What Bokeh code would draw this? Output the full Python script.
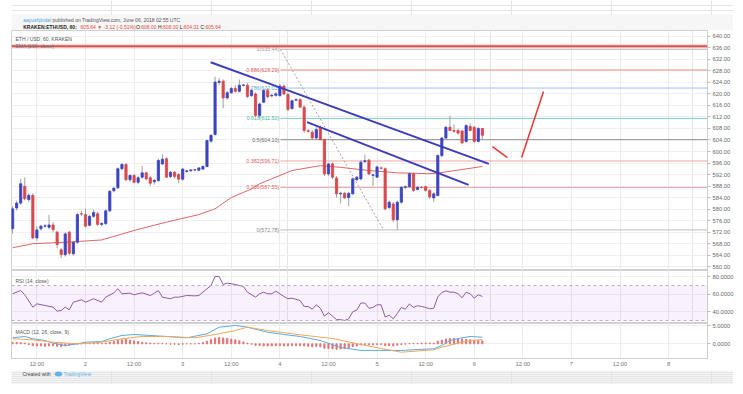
from bokeh.plotting import figure
from bokeh.layouts import column
from bokeh.models import Range1d, FixedTicker, PrintfTickFormatter, Label, Grid, Span, BoxAnnotation
from bokeh.core.properties import value
from bokeh.embed import file_html
from bokeh.resources import INLINE

# ---------------- data ----------------
hours = list(range(-18, 99))  # hours relative to June 2 00:00 UTC
opens = [573.2, 580.4, 582.1, 587.9, 583.3, 584.8, 570.0, 573.2, 574.1, 573.7,
         574.5, 572.0, 565.9, 564.2, 572.0, 564.5, 568.5, 578.4, 578.1, 574.4,
         577.5, 578.4, 574.7, 575.0, 579.4, 586.4, 587.4, 594.0, 595.5, 590.2,
         591.7, 589.3, 591.1, 592.6, 590.9, 589.5, 589.9, 595.7, 597.5, 591.3,
         592.8, 592.0, 590.4, 593.1, 593.3, 593.6, 593.5, 593.9, 594.8, 603.6,
         605.9, 624.0, 624.4, 618.6, 620.4, 621.9, 620.9, 623.0, 623.0, 619.4,
         620.0, 612.5, 617.1, 621.2, 619.3, 619.5, 619.4, 622.7, 619.8, 614.9,
         617.8, 618.0, 615.4, 607.2, 606.7, 604.7, 608.1, 604.1, 592.2, 595.7,
         590.8, 585.3, 585.5, 584.0, 585.3, 590.2, 590.5, 596.5, 597.0, 591.7,
         591.1, 594.3, 594.0, 580.6, 581.8, 576.3, 582.4, 587.6, 587.8, 592.3,
         586.8, 587.6, 587.8, 586.5, 583.9, 584.7, 598.6, 604.7, 608.4, 607.3,
         607.3, 607.1, 603.5, 608.7, 608.4, 603.5, 608.0]
highs = [581.0, 583.0, 590.5, 591.0, 585.5, 585.5, 574.0, 574.6, 574.8, 578.0,
         575.5, 572.5, 566.5, 572.0, 572.5, 569.0, 578.5, 579.5, 580.2, 578.0,
         579.8, 579.0, 575.5, 580.0, 586.5, 587.5, 594.5, 596.0, 596.0, 592.0,
         592.2, 591.5, 595.0, 593.0, 591.5, 590.5, 597.5, 599.0, 598.0, 593.3,
         593.2, 592.5, 594.3, 593.6, 593.9, 594.0, 594.6, 595.2, 604.2, 606.0,
         626.0, 625.5, 625.0, 621.0, 622.5, 623.0, 625.0, 623.5, 623.8, 621.8,
         620.5, 617.0, 621.8, 622.0, 620.0, 620.5, 623.5, 623.2, 620.5, 618.0,
         618.5, 618.5, 616.0, 607.8, 607.5, 608.5, 609.0, 604.5, 596.0, 596.2,
         591.5, 586.0, 586.0, 586.0, 591.0, 591.5, 597.0, 599.0, 597.5, 592.3,
         595.2, 594.8, 594.5, 583.0, 582.5, 583.0, 588.0, 588.2, 592.8, 592.8,
         588.0, 588.0, 588.2, 587.0, 585.8, 599.0, 605.0, 609.0, 612.5, 609.5,
         608.0, 607.5, 609.5, 609.8, 608.8, 608.5, 608.0]
lows = [571.5, 579.5, 581.5, 583.0, 582.5, 569.5, 569.0, 572.5, 573.5, 573.0,
        572.0, 566.5, 563.0, 563.5, 564.0, 563.8, 568.0, 577.6, 573.6, 574.0,
        577.0, 574.2, 574.0, 574.5, 579.0, 585.8, 587.0, 593.5, 589.8, 589.5,
        589.0, 588.8, 590.5, 590.0, 588.0, 588.5, 589.5, 595.3, 590.8, 590.8,
        590.5, 589.0, 589.8, 592.7, 593.0, 593.2, 593.2, 593.6, 594.5, 603.0,
        605.5, 623.0, 615.0, 618.0, 620.0, 620.5, 620.5, 622.5, 618.5, 619.0,
        612.0, 611.5, 616.8, 618.5, 618.8, 619.0, 619.0, 619.5, 614.0, 614.5,
        617.5, 615.0, 606.5, 606.5, 604.0, 604.3, 603.8, 591.5, 591.5, 590.5,
        584.0, 582.0, 583.5, 581.0, 585.0, 589.8, 590.0, 596.0, 591.8, 588.0,
        590.8, 593.8, 579.5, 580.0, 575.5, 572.8, 582.0, 587.0, 587.5, 586.0,
        586.5, 587.2, 586.0, 583.5, 582.5, 584.5, 598.0, 604.0, 607.0, 606.5,
        605.8, 602.5, 603.0, 607.0, 603.0, 603.2, 604.01]
closes = [580.1, 582.1, 588.8, 583.6, 584.8, 570.0, 572.8, 574.1, 574.2, 574.5,
          572.9, 567.7, 564.2, 571.4, 564.7, 568.5, 578.1, 578.3, 574.1, 577.5,
          578.8, 574.7, 575.0, 579.4, 586.2, 587.3, 594.0, 595.5, 590.2, 591.7,
          589.3, 590.9, 592.6, 590.5, 589.0, 590.0, 596.9, 597.3, 591.1, 592.8,
          591.3, 590.4, 593.9, 593.3, 593.6, 593.7, 594.3, 594.8, 603.8, 605.6,
          624.1, 624.4, 618.6, 620.4, 621.9, 620.9, 623.0, 623.1, 619.1, 621.2,
          612.5, 616.5, 621.2, 619.0, 619.5, 620.0, 622.7, 620.0, 614.6, 617.6,
          618.0, 615.4, 607.3, 607.0, 604.7, 607.6, 604.1, 592.2, 595.7, 591.1,
          585.3, 585.5, 583.9, 585.5, 590.5, 591.1, 596.3, 596.8, 592.2, 591.9,
          594.6, 594.2, 580.1, 582.4, 576.3, 582.4, 587.6, 587.8, 592.3, 586.5,
          587.6, 587.5, 586.5, 584.2, 585.3, 598.6, 604.7, 608.4, 607.3, 607.0,
          606.4, 603.0, 609.0, 607.3, 603.5, 608.0, 605.64]

ema_hours = [-18, -13, -5, 4, 12, 20, 28, 32, 36, 41, 43, 51, 58, 63, 70, 77, 85, 87, 98]
ema_vals = [566.6, 568.0, 568.5, 569.3, 572.6, 575.5, 578.1, 580.1, 584.0, 587.0, 588.8,
            593.4, 595.1, 594.5, 593.4, 592.6, 592.3, 592.5, 594.8]

fib_ratios = ["1", "0.886", "0.786", "0.618", "0.5", "0.382", "0.236", "0"]
fib_prices = [635.44, 628.29, 622.03, 611.50, 604.10, 596.71, 587.55, 572.78]
fib_start = 48.15
fib_diag_hours = [48.15, 73.6]
fib_diag_prices = [635.44, 572.78]

trend1_hours = [30.9, 99.6]
trend1_prices = [631.0, 595.7]
trend2_hours = [54.7, 94.6]
trend2_prices = [610.2, 588.4]
proj1_hours = [100.5, 104.2]
proj1_prices = [601.7, 597.9]
proj2_hours = [107.7, 113.1]
proj2_prices = [597.9, 620.8]

level_high = 636.56
last_price = 605.64

price_ticks = list(range(560, 644, 4))

rsi_hours = [-18, -16, -15, -13, -12, -10, -8, -7, -6, -5, -4, -3, -1, 0, 1, 2, 4, 5, 7, 8,
             9, 11, 12, 13, 14, 16, 17, 18, 19, 21, 22, 23, 25, 27, 28, 30, 31, 32, 33, 34,
             35, 37, 39, 40, 42, 43, 44, 45, 46, 47, 49, 50, 51, 53, 54, 55, 56, 57, 58, 59,
             60, 61, 62, 63, 64, 65, 66, 67, 68, 69, 70, 71, 72, 73, 74, 75, 76, 77, 78, 79,
             80, 81, 82, 83, 84, 85, 86, 87, 88, 89, 90, 91, 92, 93, 94, 95, 96, 97, 98]
rsi_vals = [60.6, 64.3, 59.4, 45.3, 49.1, 47.2, 45.3, 40.7, 41.5, 45.3, 42.3, 51.0, 53.7, 51.0, 52.9, 54.9, 51.0, 56.7, 61.7, 66.3,
            60.6, 61.3, 59.4, 60.6, 61.7, 58.6, 61.3, 64.3, 56.7, 54.9, 56.7, 56.7, 58.6, 58.2, 58.6, 66.3, 70.1, 80.3, 80.3, 71.2,
            72.7, 71.2, 68.9, 62.4, 56.7, 60.6, 62.4, 60.6, 60.6, 63.6, 57.5, 54.9, 55.6, 52.9, 46.0, 46.0, 43.0, 48.0, 44.0, 35.0,
            39.0, 35.0, 31.0, 31.0, 30.0, 32.0, 40.0, 42.0, 50.0, 50.0, 44.0, 45.0, 48.0, 48.0, 34.0, 36.0, 32.0, 38.0, 45.0, 43.0,
            49.0, 45.0, 47.0, 46.0, 45.0, 43.4, 44.0, 57.0, 62.0, 64.0, 62.4, 62.4, 60.6, 56.0, 62.4, 60.6, 55.6, 59.4, 57.5]

macd_hours = [-18, -15, -13, -10, -8, -5, -2, 0, 4, 6, 9, 12, 16, 20, 25, 30, 33, 37, 40, 45, 49, 53,
              58, 63, 68, 73, 78, 82, 86, 88, 90, 93, 95, 98]
macd_vals = [1.64, 2.0, 1.37, 0.9, 0.16, -0.46, 0.0, 0.44, 0.63, 1.37, 2.27, 2.54, 2.27, 2.0, 1.64, 2.73, 4.54, 5.0, 4.54, 3.17, 2.54, 2.0,
             0.9, -1.0, -1.8, -1.8, -1.83, -1.56, -1.37, -0.46, 0.9, 1.64, 2.0, 1.8]
signal_hours = [-18, -13, -8, -2, 4, 9, 14, 20, 27, 32, 37, 40, 45, 50, 53, 61, 68, 73, 78, 86, 88, 92, 95, 98]
signal_vals = [1.37, 1.09, 0.44, 0.0, 0.44, 1.37, 2.0, 2.0, 1.64, 2.54, 3.63, 4.54, 3.63, 2.9, 2.46, 1.45, -0.2, -1.3, -2.3, -1.64, -0.93, 0.16, 0.9, 1.17]
hist_vals = [0.3, 0.4, 0.3, 0.2,
             -0.2, -0.5, -0.6, -0.6, -0.7, -0.6, -0.5, -0.7, -0.8, -0.6, -0.4,
             -0.2, -0.1, 0.0, 0.1, 0.1, 0.2, 0.2, 0.1, 0.2, 0.4,
             0.6, 0.9, 1.1, 1.2, 1.0, 0.8, 0.6, 0.4,
             0.3, 0.2, 0.1, 0.1, 0.1, 0.0, -0.1, -0.1, -0.2, -0.1, 0.0, 0.0, 0.0, 0.1, 0.3,
             0.7, 1.2, 1.6, 1.7, 1.6, 1.5, 1.3, 1.1, 0.8, 0.5, 0.2,
             -0.1, -0.4, -0.5, -0.6, -0.6, -0.6, -0.5, -0.5, -0.6, -0.6, -0.5, -0.5, -0.5,
             -0.6, -0.7, -0.8, -0.7, -0.8, -1.2, -1.3, -1.4, -1.5, -1.4, -1.3, -1.1, -0.8, -0.6, -0.3, -0.2, -0.3,
             -0.3, -0.2, -0.2, -0.5, -0.5, -0.6, -0.4, -0.2, -0.1, 0.1, 0.1, 0.1, 0.2, 0.2, 0.2, 0.2,
             0.7, 1.0, 1.3, 1.4, 1.5, 1.4, 1.3, 1.2, 1.1, 1.0, 0.9, 0.8]

time_ticks = [-12, 0, 12, 24, 36, 48, 60, 72, 84, 96, 108, 120, 132, 144]
time_labels = ["12:00", "2", "12:00", "3", "12:00", "4", "12:00", "5", "12:00", "6", "12:00", "7", "12:00", "8"]

header_line1 = [("aayushjindal ", "#4a9fe0", "normal"),
                ("published on TradingView.com, June 06, 2018 02:55 UTC", "#555555", "normal")]
header_line2 = [("KRAKEN:ETHUSD, 60: ", "#222222", "bold"),
                ("605.64 \u25bc -3.12 (-0.51%) ", "#e04848", "normal"),
                ("O:", "#222222", "normal"), ("608.00 ", "#e04848", "normal"),
                ("H:", "#222222", "normal"), ("608.00 ", "#e04848", "normal"),
                ("L:", "#222222", "normal"), ("604.01 ", "#e04848", "normal"),
                ("C:", "#222222", "normal"), ("605.64", "#e04848", "normal")]

# ---------------- styling ----------------
FONT = "Liberation Sans"
UP = "#3b44c2"
DOWN = "#d9474b"
FW = 696
LEFT = 11
xr = Range1d(-18.27, 153.6)

# approximate Arial / Liberation Sans advance widths (em) used to place coloured text runs
AW = {c: 0.556 for c in "0123456789"}
AW.update({".": 0.278, ",": 0.278, ":": 0.278, " ": 0.278, "(": 0.333, ")": 0.333, "-": 0.333,
           "%": 0.889, "/": 0.278, "K": 0.667, "R": 0.722, "A": 0.667, "E": 0.667, "N": 0.722,
           "T": 0.611, "H": 0.722, "U": 0.722, "S": 0.667, "D": 0.722, "O": 0.778, "L": 0.556,
           "C": 0.722, "V": 0.667, "J": 0.5, "\u25bc": 0.8, "i": 0.222, "l": 0.222, "j": 0.222,
           "f": 0.278, "t": 0.278, "r": 0.333, "m": 0.833, "w": 0.722, "s": 0.5, "c": 0.5,
           "k": 0.5, "y": 0.5, "v": 0.5, "z": 0.5})


def tw(s, size, bold=False):
    return sum(AW.get(ch, 0.556) for ch in s) * size * (1.07 if bold else 1.0)


def panel(fh, y0, y1, ticks, fmt, bottom=0):
    p = figure(frame_width=FW, frame_height=fh, x_range=xr, y_range=Range1d(y0, y1),
               output_backend="svg", toolbar_location=None,
               x_axis_location="below" if bottom else None, y_axis_location="right",
               min_border_left=LEFT, min_border_right=26, min_border_top=0, min_border_bottom=bottom)
    p.outline_line_color = "#d0d0d0"
    p.background_fill_color = "white"
    p.border_fill_color = "white"
    ax = p.yaxis[0]
    ax.ticker = FixedTicker(ticks=ticks)
    ax.formatter = PrintfTickFormatter(format=fmt)
    ax.axis_line_color = "#cfcfcf"
    ax.major_tick_line_color = "#c0c0c0"
    ax.major_tick_out = 3
    ax.major_tick_in = 0
    ax.minor_tick_line_color = None
    ax.major_label_text_font_size = "5.8px"
    ax.major_label_text_color = "#6a6a6a"
    ax.major_label_text_font = FONT
    ax.major_label_standoff = 2
    p.ygrid.grid_line_color = "#efefef"
    p.add_layout(Grid(dimension=0, ticker=FixedTicker(ticks=time_ticks), grid_line_color="#ebebeb"))
    return p


def label(p, x, y, text, color="#555555", size="5px", **kw):
    p.add_layout(Label(x=x, y=y, x_units="screen", y_units="screen", text=text,
                       text_font=FONT, text_font_size=size, text_color=color,
                       text_baseline="middle", **kw))


# ---------------- header ----------------
HW = 733
hdr = figure(frame_width=HW, frame_height=30, x_range=Range1d(0, HW), y_range=Range1d(0, 30),
             output_backend="svg", toolbar_location=None, min_border=0,
             x_axis_location=None, y_axis_location=None)
hdr.outline_line_color = None
hdr.background_fill_color = "white"
hdr.border_fill_color = "white"
hdr.quad(left=[0], right=[HW], bottom=[0], top=[16], color="#f6f6f6", line_color=None)
HS = 5.0
for runs, yy in ((header_line1, 11), (header_line2, 4)):
    xx = 11.7
    for t, c, st in runs:
        hdr.text(x=[xx], y=[yy], text=[t], text_color=c, text_font_style=st,
                 text_font=value(FONT), text_font_size=f"{HS}px", text_baseline="middle")
        xx += tw(t, HS, st == "bold")

# ---------------- main price panel ----------------
p = panel(240, 558.7, 642.0, price_ticks, "%.2f")

fib_line_colors = ["#bdbdbd", "#f08a8a", "#9cc3e6", "#7ccfc4", "#8c8c8c", "#f4a3a3", "#e6a3a3", "#bdbdbd"]
fib_text_colors = ["#9a9a9a", "#e06060", "#6a9fd0", "#3fb3a5", "#666666", "#e06060", "#e06060", "#888888"]
p.segment(x0=[fib_start] * len(fib_prices), y0=fib_prices, x1=[153.6] * len(fib_prices), y1=fib_prices,
          line_color=fib_line_colors, line_width=1)
p.text(x=[fib_start - 0.3] * len(fib_prices), y=fib_prices,
       text=[f"{r}({v:.2f})" for r, v in zip(fib_ratios, fib_prices)],
       text_color=fib_text_colors, text_align="right", text_baseline="middle",
       text_font=value(FONT), text_font_size="5.3px")
p.line(fib_diag_hours, fib_diag_prices, line_color="#a0a0a0", line_dash="2 2", line_width=1)

p.add_layout(Span(location=level_high, dimension="width", line_color="#f2b8b8", line_width=5, line_alpha=0.5))
p.add_layout(Span(location=level_high, dimension="width", line_color="#d9534f", line_width=2))

p.line(ema_hours, ema_vals, line_color="#e06666", line_width=1)

body_top = [max(o, c) for o, c in zip(opens, closes)]
body_bot = [min(o, c) for o, c in zip(opens, closes)]
cols = [UP if c >= o else DOWN for o, c in zip(opens, closes)]
p.segment(x0=hours, y0=lows, x1=hours, y1=highs, line_color="#a0a0a0", line_width=1)
p.vbar(x=hours, width=0.55, top=body_top, bottom=body_bot, fill_color=cols, line_color=cols, line_width=0.8)

p.line(trend1_hours, trend1_prices, line_color="#3c3cbf", line_width=2)
p.line(trend2_hours, trend2_prices, line_color="#3c3cbf", line_width=2)
p.line(proj1_hours, proj1_prices, line_color="#e53935", line_width=1.5)
p.line(proj2_hours, proj2_prices, line_color="#e53935", line_width=1.5)

label(p, 4, 232, "ETH / USD, 60, KRAKEN", "#555555")
label(p, 4, 224.5, "EMA (100, close)", "#777777")
for v in (level_high, last_price):
    p.add_layout(Label(x=FW + 1, y=v, x_units="screen", y_units="data", text=f"{v:.2f}",
                       text_font=FONT, text_font_size="5.8px", text_color="white",
                       background_fill_color="#e53935", text_baseline="middle"))

# ---------------- RSI panel ----------------
r = panel(53, 26.6, 87.2, [20, 40, 60, 80], "%.4f")
r.add_layout(BoxAnnotation(bottom=30, top=70, fill_color="#b35fd6", fill_alpha=0.08, line_color=None))
for lvl in (30, 70):
    r.add_layout(Span(location=lvl, dimension="width", line_color="#c2a8cc", line_dash="3 3", line_width=1))
r.line(rsi_hours, rsi_vals, line_color="#8e5aa8", line_width=1)
label(r, 4, 43, "RSI (14, close)", "#555555")

# ---------------- MACD panel ----------------
m = panel(35, -4.02, 5.55, [0, 5], "%.4f", bottom=12)
m.vbar(x=hours, width=0.28, top=hist_vals, bottom=0, color="#e57373")
m.line(macd_hours, macd_vals, line_color="#5aa9e6", line_width=1)
m.line(signal_hours, signal_vals, line_color="#f2a65a", line_width=1)
xa = m.xaxis[0]
xa.ticker = FixedTicker(ticks=time_ticks)
xa.major_label_overrides = dict(zip(time_ticks, time_labels))
xa.axis_line_color = "#cfcfcf"
xa.major_tick_out = 0
xa.major_tick_in = 0
xa.minor_tick_line_color = None
xa.major_label_text_font_size = "5.8px"
xa.major_label_text_color = "#777777"
xa.major_label_text_font = FONT
xa.major_label_standoff = 2
label(m, 4, 27, "MACD (12, 26, close, 9)", "#555555")

# ---------------- footer ----------------
ftr = figure(frame_width=HW, frame_height=14, x_range=Range1d(0, HW), y_range=Range1d(0, 14),
             output_backend="svg", toolbar_location=None, min_border=0,
             x_axis_location=None, y_axis_location=None)
ftr.outline_line_color = None
ftr.background_fill_color = "#f4f5f6"
ftr.border_fill_color = "white"
ftr.text(x=[11], y=[10.5], text=["Created with"], text_color="#444444",
         text_font=value(FONT), text_font_size="5px", text_baseline="middle")
ftr.ellipse(x=[47], y=[10.5], width=[7], height=[4], color="#5fb3e8")
ftr.text(x=[52], y=[10.5], text=["TradingView"], text_color="#5fb3e8",
         text_font=value(FONT), text_font_size="5px", text_baseline="middle")

layout = column(hdr, p, r, m, ftr, spacing=0)
open("out.html", "w").write(file_html(layout, INLINE))
